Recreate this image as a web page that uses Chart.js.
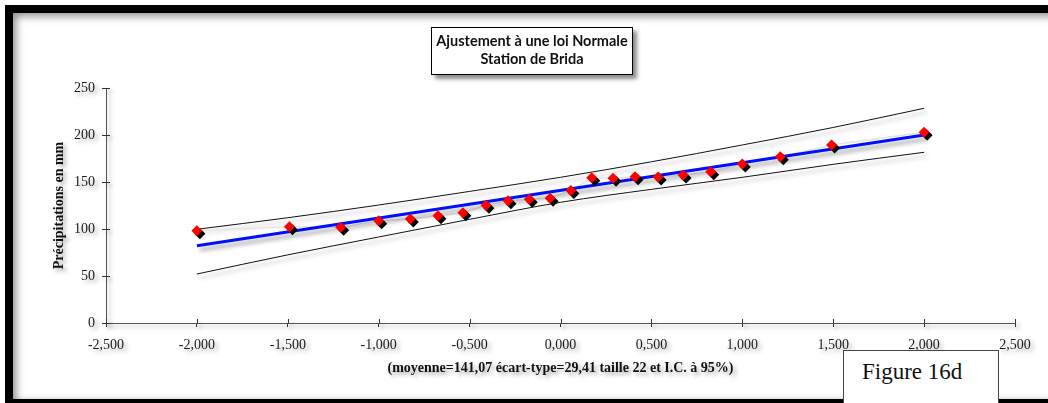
<!DOCTYPE html>
<html>
<head>
<meta charset="utf-8">
<script src="https://cdn.jsdelivr.net/npm/chart.js@4.4.0/dist/chart.umd.min.js"></script>
<style>
  html, body { margin: 0; padding: 0; background: #fff; overflow: hidden; }
  body { width: 1048px; height: 403px; position: relative; }
  .frame {
    position: absolute; left: 5px; top: 5px; width: 1200px; height: 402px;
    box-sizing: border-box; border: 8px solid #000;
    box-shadow: inset 3px 3px 9px rgba(0, 0, 0, 0.45);
  }
  #chart { position: absolute; left: 0; top: 0; z-index: 1; }
  .title-box {
    position: absolute; left: 431px; top: 27px; width: 202px; height: 48px;
    box-sizing: border-box; border: 1px solid #000; background: #fff; z-index: 2;
    box-shadow: 4px 4px 4px rgba(0, 0, 0, 0.45);
    font: bold 14.5px Lato, "Liberation Sans", sans-serif; color: #111;
    text-align: center; line-height: 18px; padding-top: 4px;
  }
  .fig-box {
    position: absolute; left: 843px; top: 350px; width: 156px; height: 60px;
    box-sizing: border-box; border: 1px solid #444; background: #fff; z-index: 2;
    font: 23px "Liberation Serif", serif; color: #111;
    padding: 8px 0 0 18px;
  }
</style>
</head>
<body>
<div class="frame"></div>
<canvas id="chart" width="1048" height="403"></canvas>
<div class="title-box">Ajustement à une loi Normale<br>Station de Brida</div>
<div class="fig-box">Figure 16d</div>
<script>
// observed precipitation sorted, plotted against the normal variable
const zValues = [-2.000, -1.491, -1.209, -1.000, -0.826, -0.674, -0.537, -0.410, -0.289, -0.172, -0.057,
                 0.057, 0.172, 0.289, 0.410, 0.537, 0.674, 0.826, 1.000, 1.209, 1.491, 2.000];
const precip = [98.2, 102.4, 101.8, 108.8, 110.6, 114.2, 117.4, 125.2, 130.1, 131.6, 132.6,
                141.0, 154.6, 153.9, 155.7, 155.3, 157.4, 161.0, 169.1, 176.9, 189.4, 202.9];

// fitted normal line (moyenne 141,07 / écart-type 29,41)
const fitZ = [-2, 2];
const fitValues = [82.25, 199.89];

// 95% confidence band
const ciZ = [-2, -1.5, -1, -0.5, 0, 0.5, 1, 1.5, 2];
const ciUpper = [99.7, 112.0, 125.5, 140.0, 155.0, 171.5, 189.4, 208.0, 228.4];
const ciLower = [52.1, 72.5, 91.5, 110.3, 128.4, 142.2, 155.0, 168.8, 181.6];

const xTicks = [-2.5, -2, -1.5, -1, -0.5, 0, 0.5, 1, 1.5, 2, 2.5];
const yTicks = [0, 50, 100, 150, 200, 250];

const toPoints = (xs, ys) => xs.map((x, i) => ({ x: x, y: ys[i] }));

const softShadow = { color: 'rgba(0,0,0,0.35)', blur: 4, x: 3, y: 4 };

const shadows = {
  id: 'shadows',
  beforeDraw(chart) {
    const ctx = chart.ctx;
    ctx.save();
    ctx.shadowColor = 'rgba(0,0,0,0.35)';
    ctx.shadowBlur = 4;
    ctx.shadowOffsetX = 3;
    ctx.shadowOffsetY = 3;
  },
  beforeDatasetDraw(chart, args) {
    const ctx = chart.ctx;
    const s = chart.data.datasets[args.index].shadow || softShadow;
    ctx.save();
    ctx.shadowColor = s.color;
    ctx.shadowBlur = s.blur;
    ctx.shadowOffsetX = s.x;
    ctx.shadowOffsetY = s.y;
  },
  afterDatasetDraw(chart) {
    chart.ctx.restore();
  },
  afterDraw(chart) {
    // tick marks cross the axis: add the inner half
    const ctx = chart.ctx;
    const xs = chart.scales.x, ys = chart.scales.y;
    ctx.strokeStyle = '#333';
    ctx.lineWidth = 1;
    ctx.beginPath();
    xs.ticks.forEach(t => {
      const px = Math.round(xs.getPixelForValue(t.value)) + 0.5;
      ctx.moveTo(px, xs.top);
      ctx.lineTo(px, xs.top - 4);
    });
    ys.ticks.forEach(t => {
      const py = Math.round(ys.getPixelForValue(t.value)) + 0.5;
      ctx.moveTo(ys.right, py);
      ctx.lineTo(ys.right + 4, py);
    });
    ctx.stroke();
    ctx.restore();
  }
};

new Chart(document.getElementById('chart'), {
  type: 'scatter',
  data: {
    datasets: [
      {
        label: 'I.C. sup',
        data: toPoints(ciZ, ciUpper),
        showLine: true, borderColor: '#111', borderWidth: 1,
        pointRadius: 0, cubicInterpolationMode: 'monotone', order: 4
      },
      {
        label: 'I.C. inf',
        data: toPoints(ciZ, ciLower),
        showLine: true, borderColor: '#111', borderWidth: 1,
        pointRadius: 0, cubicInterpolationMode: 'monotone', order: 4
      },
      {
        label: 'trace',
        data: toPoints(zValues, precip),
        showLine: true, borderColor: '#e4e4e4', borderWidth: 1.5,
        pointRadius: 0, order: 3,
        shadow: { color: 'rgba(0,0,0,0)', blur: 0, x: 0, y: 0 }
      },
      {
        label: 'Ajustement',
        data: toPoints(fitZ, fitValues),
        showLine: true, borderColor: '#0010ff', borderWidth: 3,
        pointRadius: 0, order: 2
      },
      {
        label: 'Précipitations',
        data: toPoints(zValues, precip),
        pointStyle: 'rectRot', pointRadius: 5.5,
        backgroundColor: '#ff0000', borderColor: '#ff0000', borderWidth: 0,
        order: 1,
        shadow: { color: '#000', blur: 0, x: 3, y: 3 }
      }
    ]
  },
  options: {
    responsive: false,
    devicePixelRatio: 1,
    animation: false,
    layout: { padding: { left: 0, top: 88, right: 33, bottom: 0 } },
    plugins: { legend: { display: false }, tooltip: { enabled: false } },
    scales: {
      x: {
        type: 'linear', min: -2.5, max: 2.5,
        afterBuildTicks: s => { s.ticks = xTicks.map(v => ({ value: v })); },
        afterFit: s => { s.height = 80; },
        border: { color: '#555', width: 1 },
        grid: { drawOnChartArea: false, tickLength: 4, color: '#333' },
        ticks: {
          padding: 10, color: '#1a1a1a', maxRotation: 0, autoSkip: false,
          font: { family: '"Liberation Serif", serif', size: 14 },
          callback: v => v.toFixed(3).replace('.', ',')
        },
        title: {
          display: true,
          text: '(moyenne=141,07 écart-type=29,41 taille 22 et I.C. à 95%)',
          color: '#111', padding: { top: 0, bottom: 26 },
          font: { family: '"Liberation Serif", serif', size: 14, weight: 'bold' }
        }
      },
      y: {
        type: 'linear', min: 0, max: 250,
        afterBuildTicks: s => { s.ticks = yTicks.map(v => ({ value: v })); },
        afterFit: s => { s.width = 106; },
        border: { color: '#555', width: 1 },
        grid: { drawOnChartArea: false, tickLength: 4, color: '#333' },
        ticks: {
          padding: 7, color: '#1a1a1a',
          font: { family: '"Liberation Serif", serif', size: 14 }
        },
        title: {
          display: true,
          text: 'Précipitations en mm',
          color: '#111', padding: { top: 51, bottom: 0 },
          font: { family: '"Liberation Serif", serif', size: 14, weight: 'bold' }
        }
      }
    }
  },
  plugins: [shadows]
});
</script>
</body>
</html>
